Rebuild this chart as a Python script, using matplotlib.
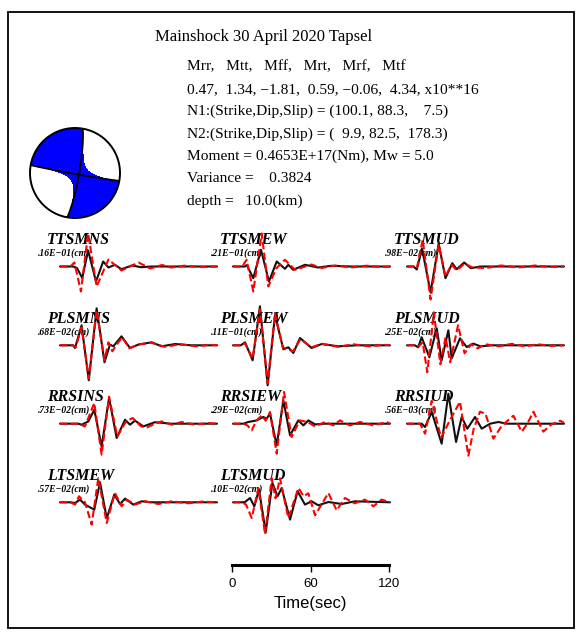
import numpy as np
import matplotlib
matplotlib.use("Agg")
import matplotlib.pyplot as plt
from matplotlib.patches import Rectangle, Circle

# =====================================================================
# Event header
# =====================================================================
TITLE = "Mainshock 30 April 2020 Tapsel"
HEADER_LINES = [
    "Mrr,   Mtt,   Mff,   Mrt,   Mrf,   Mtf",
    "0.47,  1.34, \u22121.81,  0.59, \u22120.06,  4.34, x10**16",
    "N1:(Strike,Dip,Slip) = (100.1, 88.3,    7.5)",
    "N2:(Strike,Dip,Slip) = (  9.9, 82.5,  178.3)",
    "Moment = 0.4653E+17(Nm), Mw = 5.0",
    "Variance =    0.3824",
    "depth =   10.0(km)",
]

# moment tensor (x10**16), order rr, tt, ff, rt, rf, tf
MT = [0.47, 1.34, -1.81, 0.59, -0.06, 4.34]
NODAL_PLANES = [(100.1, 88.3), (9.9, 82.5)]  # strike, dip

# =====================================================================
# Waveforms: time (s), relative amplitude
# obs = black solid, syn = red dashed
# =====================================================================
ttsmns_obs_t = [0, 10, 13, 17, 21.5, 27.5, 33, 37, 42, 47, 55, 62, 70, 120]
ttsmns_obs_a = [0, 0, -1.5, -11.5, 16, -15, 5, -1, 1.7, -2.7, 1, -0.7, 0, 0]
ttsmns_syn_t = [0, 8, 11, 16, 21.5, 28, 37, 47, 60, 69, 78, 85, 95, 108, 120]
ttsmns_syn_a = [0, 0, 4, -25, 33, -20, 7, -4, 4, -2, 1.5, -1, 0.8, -0.5, 0]

ttsmew_obs_t = [0, 9, 10.5, 15.5, 21.4, 27.5, 33.4, 39.7, 42.3, 46, 55, 65, 75, 90, 120]
ttsmew_obs_a = [0, 0, 1.5, -11.7, 16.7, -15, 5, -2.3, 1.7, -3.3, 1.7, -1, 0.7, 0, 0]
ttsmew_syn_t = [0, 7, 10.4, 15.5, 21.9, 27, 33, 39.7, 47.4, 60, 67.8, 78, 90, 102, 114, 120]
ttsmew_syn_a = [0, 0, 6.7, -25, 33, -20, -2, 6.7, -3.3, 2, -1.5, 1, -1, 0.8, -0.5, 0]

ttsmud_obs_t = [0, 5, 7.5, 11.5, 18, 24.2, 29.4, 34.6, 38, 43.7, 48.8, 56, 120]
ttsmud_obs_a = [0, 0, -3, 18, -26, 23, -11.7, 3.3, -2.7, 4, -1.7, 0, 0]
ttsmud_syn_t = [0, 5, 7.5, 12, 18, 24.2, 29.4, 34, 38, 44, 50, 60, 72, 85, 98, 110, 120]
ttsmud_syn_a = [0, 0, -2, 27, -33, 22, -10, 2, -4, 3, -1, -1.5, 1, -1, 1, -0.5, 0]

plsmns_obs_t = [0, 10, 11.5, 16.5, 22, 28, 34, 38.2, 40.8, 47, 53.5, 60, 70, 77.7, 88, 100, 120]
plsmns_obs_a = [0, 0, -2.7, 20, -35, 37, -17, 0.7, -1, 9, -2.7, 0.7, 3, -1, 1.3, 0, 0]
plsmns_syn_t = [0, 10, 12, 16.5, 22, 28, 34, 37, 40, 44, 47.5, 53, 60, 70, 80, 92, 104, 115, 120]
plsmns_syn_a = [0, 0, -2, 18, -33, 35, -15, 3, -6, 2, 8, -3, 1, 2.5, -1.5, 1, -1, 0.5, 0]

plsmew_obs_t = [0, 6, 9.2, 15, 20.6, 26.5, 32.1, 38.5, 42.3, 46.1, 51.2, 60.1, 67.8, 80.5, 95, 120]
plsmew_obs_a = [0, 0, 3, -15, 39, -40, 30, -4, -2, -7.7, 7.3, -2.7, 1.3, -1, 0, 0]
plsmew_syn_t = [0, 6, 9.2, 15, 20.6, 26.5, 32.1, 38, 42, 46, 51.5, 60, 68, 80, 92, 104, 116, 120]
plsmew_syn_a = [0, 0, 2, -13, 36, -38, 32, -2, -4, -6, 6, -2, 1.5, -1.5, 1, -1, 0.5, 0]

plsmud_obs_t = [0, 6, 8.5, 11.2, 17.1, 22.7, 26.5, 31.6, 34.2, 40.5, 45.6, 50.7, 56, 65, 120]
plsmud_obs_a = [0, 0, -2, 8, -12, 17, -15, 15, -13, 7, -1.7, 1.7, -1, 0, 0]
plsmud_syn_t = [0, 6, 9, 12, 15.5, 20.5, 25.5, 29.5, 33, 39, 44, 49, 54, 60, 70, 80, 90, 100, 110, 120]
plsmud_syn_a = [0, 0, -1, 3, -27, 33, -19, 8, -17, 20, -8, 1, -3, 1, -1, 1.5, -1, 1, -0.5, 0]

rrsins_obs_t = [0, 14, 16.6, 21.7, 26.2, 31.8, 37.5, 43.3, 49.7, 53.5, 57.3, 63.7, 72.6, 85, 120]
rrsins_obs_a = [0, 0, -1, 2.3, 14, -22.7, 25.7, -14.3, 4, -1, 3, -2.7, 1.5, 0, 0]
rrsins_syn_t = [0, 14, 19.1, 26.2, 31.8, 37.5, 43.8, 50.5, 55.5, 62, 66.5, 72.6, 77.7, 85.4, 93, 103.2, 113.4, 120]
rrsins_syn_a = [0, 0, -2.7, 20.7, -31, 27, -12.7, 2.3, 5.7, -2.7, -3.7, 0, 2.3, -1, 1.7, -1, 0.7, 0]

rrsiew_obs_t = [0, 8, 11.7, 18.1, 23.2, 25.7, 28.3, 33.4, 38.5, 43.6, 49.9, 53.8, 57.6, 62.7, 70, 120]
rrsiew_obs_a = [0, 0, 1.7, 3.3, 6.7, 5, 10, -21.7, 23.3, -11.7, 3.3, -1.7, 3.3, -0.7, 0, 0]
rrsiew_syn_t = [0, 8, 11, 14.3, 18, 22, 25, 28.3, 33.4, 39, 44.8, 51, 57, 62.7, 70.3, 76.7,
                81.8, 89.4, 97, 107.3, 117.5, 120]
rrsiew_syn_a = [0, 0, -1.7, -6.7, 3.3, 8.3, 3, 11.7, -30, 31.7, -13.3, 3.3, 1.7, -2.7, 1.7, -1.7,
                3.3, -1.7, 1.7, -1.7, 1.7, 0]

rrsiud_obs_t = [0, 8, 11.2, 13.8, 18.9, 26.5, 31.6, 37.5, 41.8, 46.1, 52, 57.1, 63.5, 69.8, 76.2, 120]
rrsiud_obs_a = [0, 0, 0, -3.3, 11.7, -20, 30, -18.3, 6.7, -5, 6.7, -5, 0, 1.7, 0, 0]
rrsiud_syn_t = [0, 8, 10, 13.8, 18.9, 26, 33, 40.5, 46.9, 51, 55.8, 60, 66, 72, 76, 81.3, 87.7,
                92, 96.6, 104.2, 110, 117, 120]
rrsiud_syn_a = [0, 0, 0, -10, 23, -14, 4, 22, -32, -5, 12, 10, -15, -3, 2, 8, -8,
                0, 12, -8, -1, 3, 1]

ltsmew_obs_t = [0, 8, 11.5, 15.3, 19.1, 26.2, 30.6, 35.7, 41.5, 45.9, 49.7, 56, 62.4, 70, 120]
ltsmew_obs_a = [0, 0, -0.7, 2.7, -2.3, -7.3, 20, -16, 7.7, -1.7, 3.7, -2.3, 1, 0, 0]
ltsmew_syn_t = [0, 8, 11.5, 14.5, 19.1, 24.2, 29.3, 35.7, 42, 47.1, 51, 57.3, 65, 75.2, 85.4, 98.1, 108.3, 120]
ltsmew_syn_a = [0, 0, -2.3, 6, 0, -22.3, 24.3, -20.7, 9.3, -4, 2.7, -2.3, 1, -1.7, 1, -1, 0.7, 0]

ltsmud_obs_t = [0, 7, 9.2, 13, 16.3, 19.9, 25, 30.1, 34.1, 37.2, 43.6, 49.4, 55, 60.1, 65.2,
                72.9, 83.1, 93.2, 120]
ltsmud_obs_a = [0, 0, 0.3, 4.3, -4, 12.7, -30, 19.3, 6, 14.3, -17.3, 11, -2.3, 1, -3,
                0.3, -1.7, 1, 0]
ltsmud_syn_t = [0, 7, 10, 14.3, 19.4, 24.5, 29.6, 32.5, 35.9, 42.3, 50, 54, 57.6, 62.7, 72.9,
                79.2, 85.6, 93, 100.9, 107.3, 113.6, 120]
ltsmud_syn_a = [0, 0, -2.3, -15.7, 14.3, -32, 24, 4, 24, -15.7, 14.3, 6, 9, -13, 9.3,
                -8, 4.3, -1, 2.7, -4, 2.7, 0]

# station name, peak amplitude label, row, column, waveforms
STATIONS = [
    ("TTSMNS", ".16E\u221201(cm)", 0, 0, ttsmns_obs_t, ttsmns_obs_a, ttsmns_syn_t, ttsmns_syn_a),
    ("TTSMEW", ".21E\u221201(cm)", 0, 1, ttsmew_obs_t, ttsmew_obs_a, ttsmew_syn_t, ttsmew_syn_a),
    ("TTSMUD", ".98E\u221202(cm)", 0, 2, ttsmud_obs_t, ttsmud_obs_a, ttsmud_syn_t, ttsmud_syn_a),
    ("PLSMNS", ".68E\u221202(cm)", 1, 0, plsmns_obs_t, plsmns_obs_a, plsmns_syn_t, plsmns_syn_a),
    ("PLSMEW", ".11E\u221201(cm)", 1, 1, plsmew_obs_t, plsmew_obs_a, plsmew_syn_t, plsmew_syn_a),
    ("PLSMUD", ".25E\u221202(cm)", 1, 2, plsmud_obs_t, plsmud_obs_a, plsmud_syn_t, plsmud_syn_a),
    ("RRSINS", ".73E\u221202(cm)", 2, 0, rrsins_obs_t, rrsins_obs_a, rrsins_syn_t, rrsins_syn_a),
    ("RRSIEW", ".29E\u221202(cm)", 2, 1, rrsiew_obs_t, rrsiew_obs_a, rrsiew_syn_t, rrsiew_syn_a),
    ("RRSIUD", ".56E\u221203(cm)", 2, 2, rrsiud_obs_t, rrsiud_obs_a, rrsiud_syn_t, rrsiud_syn_a),
    ("LTSMEW", ".57E\u221202(cm)", 3, 0, ltsmew_obs_t, ltsmew_obs_a, ltsmew_syn_t, ltsmew_syn_a),
    ("LTSMUD", ".10E\u221202(cm)", 3, 1, ltsmud_obs_t, ltsmud_obs_a, ltsmud_syn_t, ltsmud_syn_a),
]

TIME_TICKS = [0, 60, 120]

# =====================================================================
# Layout (pixels)
# =====================================================================
W, H = 582, 633
COL_X = [60, 233, 407]
ROW_Y = [266.5, 345.3, 423.7, 502.3]
TRACE_W = 157
SERIF = ["Liberation Serif", "DejaVu Serif"]
SANS = ["Liberation Sans", "DejaVu Sans"]

fig = plt.figure(figsize=(W / 100, H / 100), dpi=100)
ax0 = fig.add_axes([0, 0, 1, 1])
ax0.set_xlim(0, W)
ax0.set_ylim(H, 0)
ax0.axis("off")
ax0.add_patch(Rectangle((8, 12), 566, 616, fill=False, lw=1.3, ec="black"))

ax0.text(155, 37, TITLE, family=SERIF, fontsize=12, va="center", ha="left")
for i, line in enumerate(HEADER_LINES):
    ax0.text(187, 67 + i * 22.3, line, family=SERIF, fontsize=11.1, va="center", ha="left")

# ---------------------------------------------------------------------
# Beachball (lower hemisphere, equal area)
# ---------------------------------------------------------------------
bx, by, br = 75, 173, 45
axb = fig.add_axes([(bx - br) / W, (H - by - br) / H, 2 * br / W, 2 * br / H])
axb.set_xlim(-1, 1)
axb.set_ylim(-1, 1)
axb.set_aspect("equal")
axb.axis("off")

mrr, mtt, mff, mrt, mrf, mtf = MT
M = np.array([[mrr, mrt, mrf], [mrt, mtt, mtf], [mrf, mtf, mff]])
g = np.linspace(-1, 1, 501)
X, Y = np.meshgrid(g, g)
R = np.hypot(X, Y)
inc = 2 * np.arcsin(np.clip(R, 0, 1) / np.sqrt(2))
az = np.arctan2(X, Y)
n = np.stack([-np.cos(inc), -np.sin(inc) * np.cos(az), np.sin(inc) * np.sin(az)])
amp = np.einsum("i...,ij,j...->...", n, M, n)
amp = np.where(R <= 1.0, amp, np.nan)
axb.contourf(X, Y, amp, levels=[0, np.nanmax(amp) + 1], colors=["#0000ff"])

for strike, dip in NODAL_PLANES:
    s, d = np.radians(strike), np.radians(dip)
    alpha = np.linspace(0, np.pi, 200)
    sv = np.array([np.cos(s), np.sin(s), 0.0])
    dv = np.array([np.cos(d) * np.cos(s + np.pi / 2), np.cos(d) * np.sin(s + np.pi / 2), np.sin(d)])
    v = np.outer(np.cos(alpha), sv) + np.outer(np.sin(alpha), dv)
    plunge = np.arcsin(np.clip(v[:, 2], -1, 1))
    r = np.sqrt(2) * np.sin((np.pi / 2 - plunge) / 2)
    a = np.arctan2(v[:, 1], v[:, 0])
    axb.plot(r * np.sin(a), r * np.cos(a), color="black", lw=1.3, zorder=3)
axb.add_patch(Circle((0, 0), 1, fill=False, ec="black", lw=1.4, clip_on=False, zorder=4))

# ---------------------------------------------------------------------
# Waveforms
# ---------------------------------------------------------------------
for name, amp_lbl, row, col, ot, oa, st, sa in STATIONS:
    x0, base = COL_X[col], ROW_Y[row]
    ax0.text(x0 - 13, base - 22.5, name, family=SERIF, fontsize=11.5,
             weight="bold", style="italic", ha="left", va="baseline")
    ax0.text(x0 - 22, base - 13.5, amp_lbl, family=SERIF, fontsize=6.9,
             weight="bold", style="italic", ha="left", va="center")
    ax = fig.add_axes([x0 / W, (H - base - 50) / H, TRACE_W / W, 100 / H])
    ax.set_xlim(0, 120)
    ax.set_ylim(-50, 50)
    ax.axis("off")
    ax.patch.set_alpha(0)
    ax.plot(ot, oa, color="#111111", lw=1.5, clip_on=False,
            solid_joinstyle="round", solid_capstyle="round")
    ax.plot(st, sa, color="#ff0000", lw=1.5, ls=(0, (3.5, 1.6)), clip_on=False)

# ---------------------------------------------------------------------
# Time scale bar
# ---------------------------------------------------------------------
axt = fig.add_axes([232 / W, (H - 565) / H, TRACE_W / W, 0.0001])
axt.set_xlim(0, 120)
axt.set_yticks([])
for side in ("top", "left", "right"):
    axt.spines[side].set_visible(False)
axt.spines["bottom"].set_linewidth(2.2)
axt.set_xticks(TIME_TICKS)
axt.set_xticklabels([str(v) for v in TIME_TICKS], family=SANS, fontsize=9.5)
axt.tick_params(axis="x", direction="out", length=5, width=1.0, pad=4.5)
axt.set_xlabel("Time(sec)", family=SANS, fontsize=12, labelpad=4.5)
axt.patch.set_alpha(0)

fig.savefig("out.png", dpi=100)
